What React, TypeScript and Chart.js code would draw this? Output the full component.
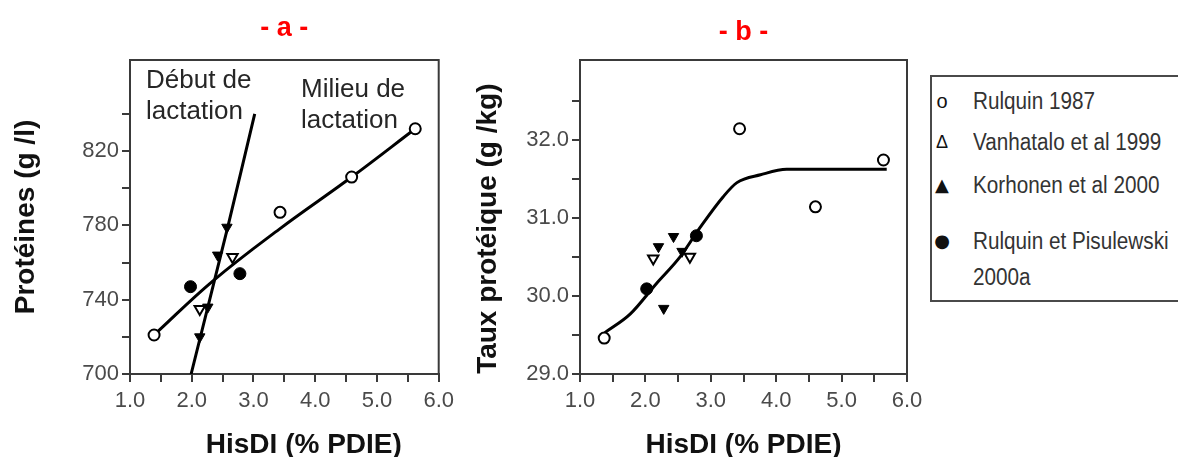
import React, { useEffect, useRef } from 'react';
import { Chart, registerables } from 'chart.js';

Chart.register(...registerables);

const FONT = '"Liberation Sans", Arial, Helvetica, sans-serif';

// ---------- Panel a: Protéines (g/l) ----------
const xTicks = [1.0, 1.5, 2.0, 2.5, 3.0, 3.5, 4.0, 4.5, 5.0, 5.5, 6.0];
const yTicksA = [700, 720, 740, 760, 780, 800, 820, 840];
const yLabelStepA = 40;

const milieuX = [1.39, 2.34, 3.42, 4.59, 5.62];
const milieuY = [721, 750, 778, 806, 832];

const debutX = [1.99, 2.59, 3.02];
const debutY = [700, 780, 840];

const rulquin87AX = [1.39, 3.43, 4.59, 5.62];
const rulquin87AY = [721, 787, 806, 832];

const vanhataloAX = [2.13, 2.66];
const vanhataloAY = [735, 763];

const korhonenAX = [2.13, 2.26, 2.42, 2.57];
const korhonenAY = [720, 736, 764, 779];

const pisulewskiAX = [1.98, 2.78];
const pisulewskiAY = [747, 754];

// ---------- Panel b: Taux protéique (g/kg) ----------
const yTicksB = [29.0, 29.5, 30.0, 30.5, 31.0, 31.5, 32.0, 32.5];

const curveBX = [1.38, 1.77, 2.17, 2.53, 2.84, 3.19, 3.4, 3.76, 4.16, 5.69];
const curveBY = [29.53, 29.77, 30.16, 30.5, 30.88, 31.27, 31.45, 31.55, 31.62, 31.62];

const rulquin87BX = [1.37, 3.44, 4.6, 5.64];
const rulquin87BY = [29.46, 32.14, 31.14, 31.74];

const vanhataloBX = [2.12, 2.68];
const vanhataloBY = [30.48, 30.5];

const korhonenBX = [2.2, 2.28, 2.43, 2.56];
const korhonenBY = [30.63, 29.84, 30.76, 30.57];

const pisulewskiBX = [2.02, 2.78];
const pisulewskiBY = [30.09, 30.77];

const legendLabels = ['Rulquin 1987', 'Vanhatalo et al 1999', 'Korhonen et al 2000', 'Rulquin et Pisulewski', '2000a'];
const legendSymbols = ['o', '\u0394', '\u25B2', '\u25CF', ''];

const pts = (xs: number[], ys: number[]) => xs.map((x, i) => ({ x, y: ys[i] }));

const framePlugin = {
  id: 'frame',
  beforeDatasetsDraw(chart: any) {
    const { ctx, chartArea } = chart;
    const { left, top, right, bottom } = chartArea;
    ctx.save();
    ctx.strokeStyle = '#3a3a3a';
    ctx.lineWidth = 2;
    ctx.strokeRect(left, top, right - left, bottom - top);
    ctx.restore();
  },
};

const annotPlugin = {
  id: 'annot',
  afterDraw(chart: any) {
    const { ctx } = chart;
    ctx.save();
    ctx.fillStyle = '#262626';
    ctx.font = `26px ${FONT}`;
    ctx.textAlign = 'left';
    ctx.textBaseline = 'alphabetic';
    ctx.fillText('Début de', 146, 88);
    ctx.fillText('lactation', 146, 119);
    ctx.fillText('Milieu de', 301, 97);
    ctx.fillText('lactation', 301, 128);
    ctx.restore();
  },
};

function lineDs(data: any[], tension: number) {
  return {
    type: 'line' as const,
    data,
    borderColor: '#000',
    borderWidth: 3,
    pointRadius: 0,
    fill: false,
    tension,
    order: 2,
  };
}

function curveDs(data: any[]) {
  return {
    type: 'line' as const,
    data,
    borderColor: '#000',
    borderWidth: 3,
    pointRadius: 0,
    fill: false,
    cubicInterpolationMode: 'monotone' as const,
    order: 2,
  };
}

function markerDs(data: any[], style: string, filled: boolean, rotation = 0, radius = 6) {
  return {
    type: 'scatter' as const,
    data,
    pointStyle: style,
    rotation,
    pointRadius: radius,
    pointBackgroundColor: filled ? '#000' : '#fff',
    pointBorderColor: '#000',
    pointBorderWidth: filled ? 1 : 2,
    showLine: false,
    order: 1,
  };
}

function makeOptions(cfg: {
  title: string; yMin: number; yMax: number; yTicks: number[]; yLabel: (v: number) => string;
  yTitle: string; xTitle: string; yWidth: number; rightPad: number; titlePadTop: number; titlePadBottom: number; yTitlePad: number;
}) {
  return {
    animation: false as const,
    responsive: false,
    events: [],
    layout: { padding: { left: 0, right: cfg.rightPad, top: 0, bottom: 0 } },
    plugins: {
      legend: { display: false },
      tooltip: { enabled: false },
      title: {
        display: true,
        text: cfg.title,
        color: '#ff0000',
        fullSize: false,
        font: { family: FONT, size: 27, weight: 'bold' as const, lineHeight: 1.2 },
        padding: { top: cfg.titlePadTop, bottom: cfg.titlePadBottom },
      },
    },
    scales: {
      x: {
        type: 'linear' as const,
        min: 1,
        max: 6,
        afterBuildTicks: (s: any) => { s.ticks = xTicks.map((v) => ({ value: v })); },
        afterFit: (s: any) => { s.height = 83; },
        ticks: {
          autoSkip: false,
          maxRotation: 0,
          padding: 6,
          color: '#4a4a4a',
          font: { family: FONT, size: 22 },
          callback: (v: any) => (Math.abs(v - Math.round(v)) < 1e-9 ? Number(v).toFixed(1) : ''),
        },
        grid: { drawOnChartArea: false, tickLength: 8, color: '#3a3a3a', lineWidth: 2 },
        border: { color: '#3a3a3a', width: 2 },
        title: {
          display: true,
          text: cfg.xTitle,
          color: '#111',
          font: { family: FONT, size: 28, weight: 'bold' as const, lineHeight: 0.85 },
          padding: { top: 0, bottom: 0 },
        },
      },
      y: {
        type: 'linear' as const,
        min: cfg.yMin,
        max: cfg.yMax,
        afterBuildTicks: (s: any) => { s.ticks = cfg.yTicks.map((v) => ({ value: v })); },
        afterFit: (s: any) => { s.width = cfg.yWidth; },
        ticks: {
          autoSkip: false,
          padding: 3,
          color: '#4a4a4a',
          font: { family: FONT, size: 22 },
          callback: (v: any) => cfg.yLabel(Number(v)),
        },
        grid: { drawOnChartArea: false, tickLength: 8, color: '#3a3a3a', lineWidth: 2 },
        border: { color: '#3a3a3a', width: 2 },
        title: {
          display: true,
          text: cfg.yTitle,
          color: '#111',
          font: { family: FONT, size: 28, weight: 'bold' as const, lineHeight: 1.2 },
          padding: { top: cfg.yTitlePad, bottom: 0 },
        },
      },
    },
  };
}

export default function App() {
  const refA = useRef<HTMLCanvasElement>(null);
  const refB = useRef<HTMLCanvasElement>(null);

  useEffect(() => {
    const chartA = new Chart(refA.current as HTMLCanvasElement, {
      type: 'scatter',
      data: {
        datasets: [
          lineDs(pts(milieuX, milieuY), 0.4),
          lineDs(pts(debutX, debutY), 0.2),
          markerDs(pts(rulquin87AX, rulquin87AY), 'circle', false, 0, 5.5),
          markerDs(pts(vanhataloAX, vanhataloAY), 'triangle', false, 180, 6),
          markerDs(pts(korhonenAX, korhonenAY), 'triangle', true, 180, 6),
          markerDs(pts(pisulewskiAX, pisulewskiAY), 'circle', true, 0, 6),
        ] as any,
      },
      options: makeOptions({
        title: '- a -',
        yMin: 700,
        yMax: 869,
        yTicks: yTicksA,
        yLabel: (v) => ((v - 700) % yLabelStepA === 0 ? String(v) : ''),
        yTitle: 'Protéines (g /l)',
        xTitle: '     HisDI (% PDIE)',
        yWidth: 130,
        rightPad: 19,
        titlePadTop: 12,
        titlePadBottom: 15.6,
        yTitlePad: 9,
      }) as any,
      plugins: [framePlugin, annotPlugin],
    });

    const chartB = new Chart(refB.current as HTMLCanvasElement, {
      type: 'scatter',
      data: {
        datasets: [
          curveDs(pts(curveBX, curveBY)),
          markerDs(pts(rulquin87BX, rulquin87BY), 'circle', false, 0, 5.5),
          markerDs(pts(vanhataloBX, vanhataloBY), 'triangle', false, 180, 6),
          markerDs(pts(korhonenBX, korhonenBY), 'triangle', true, 180, 6),
          markerDs(pts(pisulewskiBX, pisulewskiBY), 'circle', true, 0, 6),
        ] as any,
      },
      options: makeOptions({
        title: '- b -',
        yMin: 29,
        yMax: 33.02,
        yTicks: yTicksB,
        yLabel: (v) => (Math.abs(v - Math.round(v)) < 1e-9 ? v.toFixed(1) : ''),
        yTitle: 'Taux protéique (g /kg)   ',
        xTitle: 'HisDI (% PDIE)',
        yWidth: 120,
        rightPad: 23,
        titlePadTop: 16.3,
        titlePadBottom: 11.3,
        yTitlePad: 11,
      }) as any,
      plugins: [framePlugin],
    });

    return () => {
      chartA.destroy();
      chartB.destroy();
    };
  }, []);

  const rowCenters = [101, 142, 185, 241, 277];

  return (
    <div style={{ position: 'absolute', left: 0, top: 0, width: 1178, height: 457, background: '#fff', overflow: 'hidden' }}>
      <canvas ref={refA} width={460} height={457} style={{ position: 'absolute', left: 0, top: 0, width: 460, height: 457 }} />
      <canvas ref={refB} width={470} height={457} style={{ position: 'absolute', left: 460, top: 0, width: 470, height: 457 }} />
      <div
        style={{
          position: 'absolute',
          left: 930,
          top: 75,
          width: 270,
          height: 227,
          border: '2px solid #4a4a4a',
          boxSizing: 'border-box',
          fontFamily: FONT,
          color: '#333',
        }}
      >
        {legendLabels.map((label, i) => (
          <React.Fragment key={label}>
            {legendSymbols[i] ? (
              <div
                style={{
                  position: 'absolute',
                  left: 942 - 932 - 10,
                  width: 20,
                  textAlign: 'center',
                  top: rowCenters[i] - 77 - 12,
                  height: 24,
                  lineHeight: '24px',
                  fontSize: i === 0 ? 20 : 18,
                  fontFamily: i < 2 ? FONT : '"DejaVu Sans", sans-serif',
                  color: '#111',
                }}
              >
                {legendSymbols[i]}
              </div>
            ) : null}
            <div
              style={{
                position: 'absolute',
                left: 973 - 932,
                top: rowCenters[i] - 77 - 12,
                height: 24,
                lineHeight: '24px',
                fontSize: 23,
                whiteSpace: 'nowrap',
                transform: 'scaleX(0.9)',
                transformOrigin: 'left center',
              }}
            >
              {label}
            </div>
          </React.Fragment>
        ))}
      </div>
    </div>
  );
}
